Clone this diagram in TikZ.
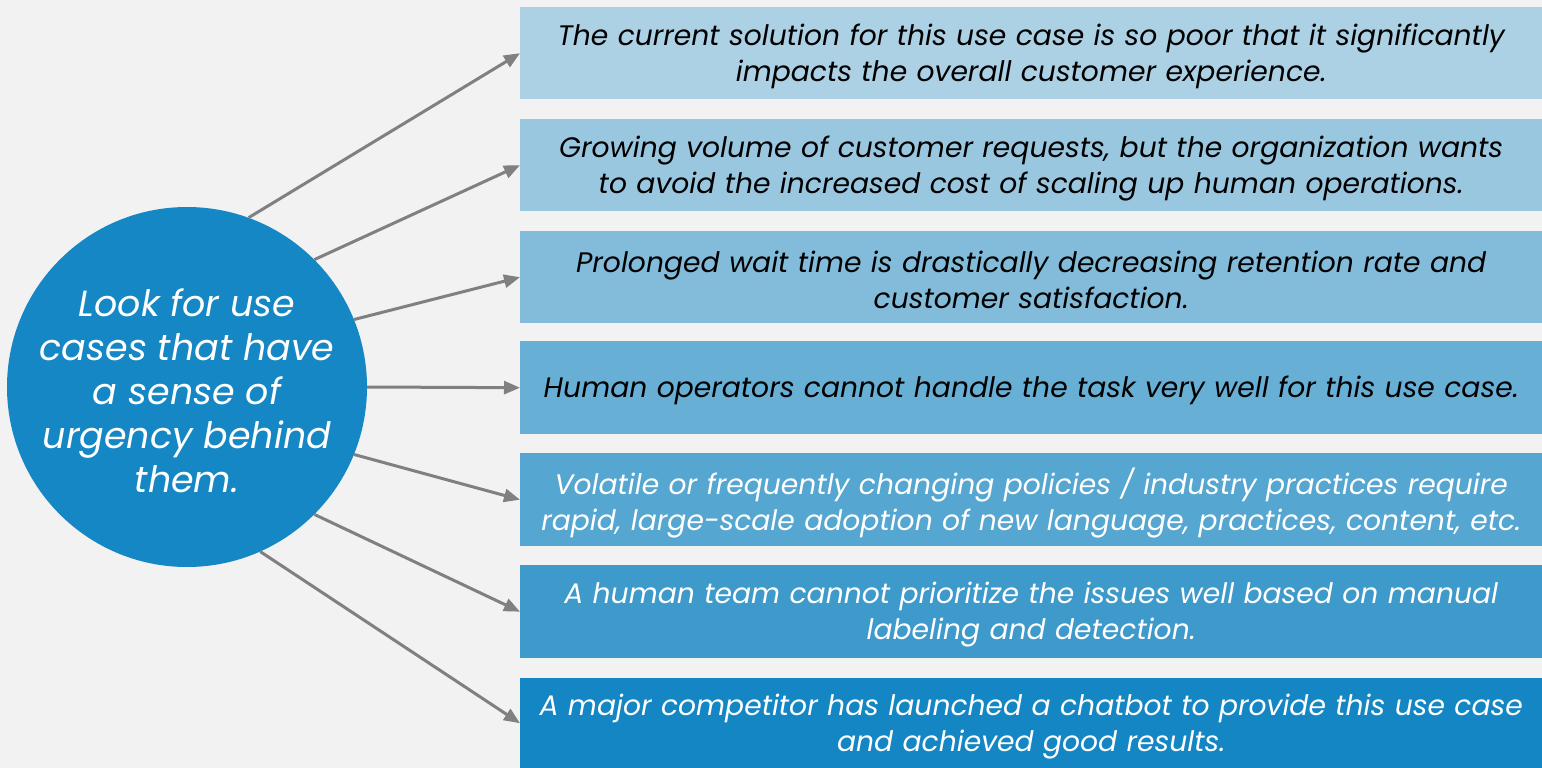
\documentclass[tikz,border=0pt]{standalone}
\usepackage{fontspec}
\setmainfont{Poppins}
\usetikzlibrary{arrows.meta}
\definecolor{bgc}{HTML}{F2F2F2}
\definecolor{cb1}{HTML}{ACD0E4}
\definecolor{cb2}{HTML}{9AC7E0}
\definecolor{cb3}{HTML}{82BCDA}
\definecolor{cb4}{HTML}{68AFD5}
\definecolor{cb5}{HTML}{55A6D0}
\definecolor{cb6}{HTML}{3F9ACC}
\definecolor{cb7}{HTML}{1386C3}
\definecolor{circc}{HTML}{1487C4}
\definecolor{arrc}{HTML}{808080}
\tikzset{
  usebox/.style={anchor=north west, minimum width=1022pt, minimum height=92pt, inner sep=0pt},
  boxtext/.style={text width=1010pt, align=center, inner sep=0pt, yshift=-3pt,
    font=\fontsize{28.2}{36}\selectfont\itshape},
  conn/.style={draw=arrc, line width=3pt, -{Triangle[length=16pt,width=13pt]}}
}
\begin{document}
\begin{tikzpicture}[x=1pt,y=-1pt]
\fill[bgc] (0,0) rectangle (1542,768);
\useasboundingbox (0,0) rectangle (1542,768);
\node[circle, fill=circc, minimum size=360pt, inner sep=0pt,
  label={[text=white, align=center, yshift=-4pt, font=\fontsize{36.4}{44}\selectfont\itshape]center:Look for use\\cases that have\\a sense of\\urgency behind\\them.}] (c) at (187,387) {};
\node[usebox, fill=cb1, label={[boxtext]center:The current solution for this use case is so poor that it significantly\\impacts the overall customer experience.}] (b1) at (520,7) {};
\node[usebox, fill=cb2, label={[boxtext]center:Growing volume of customer requests, but the organization wants\\to avoid the increased cost of scaling up human operations.}] (b2) at (520,119) {};
\node[usebox, fill=cb3, label={[boxtext]center:Prolonged wait time is drastically decreasing retention rate and\\customer satisfaction.}] (b3) at (520,231) {};
\node[usebox, fill=cb4, minimum height=93pt, label={[boxtext]center:Human operators cannot handle the task very well for this use case.}] (b4) at (520,341) {};
\node[usebox, fill=cb5, minimum height=93pt, label={[boxtext, text=white]center:Volatile or frequently changing policies / industry practices require\\rapid, large-scale adoption of new language, practices, content, etc.}] (b5) at (520,453) {};
\node[usebox, fill=cb6, minimum height=93pt, label={[boxtext, text=white]center:A human team cannot prioritize the issues well based on manual\\labeling and detection.}] (b6) at (520,565) {};
\node[usebox, fill=cb7, minimum height=90pt, label={[boxtext, text=white]center:A major competitor has launched a chatbot to provide this use case\\and achieved good results.}] (b7) at (520,678) {};
\draw[conn] (c.70) -- (b1.west);
\draw[conn] (c.45) -- (b2.west);
\draw[conn] (c.22) -- (b3.west);
\draw[conn] (c.0) -- (b4.west);
\draw[conn] (c.-22) -- (b5.west);
\draw[conn] (c.-45) -- (b6.west);
\draw[conn] (c.-66) -- (b7.west);
\end{tikzpicture}
\end{document}
